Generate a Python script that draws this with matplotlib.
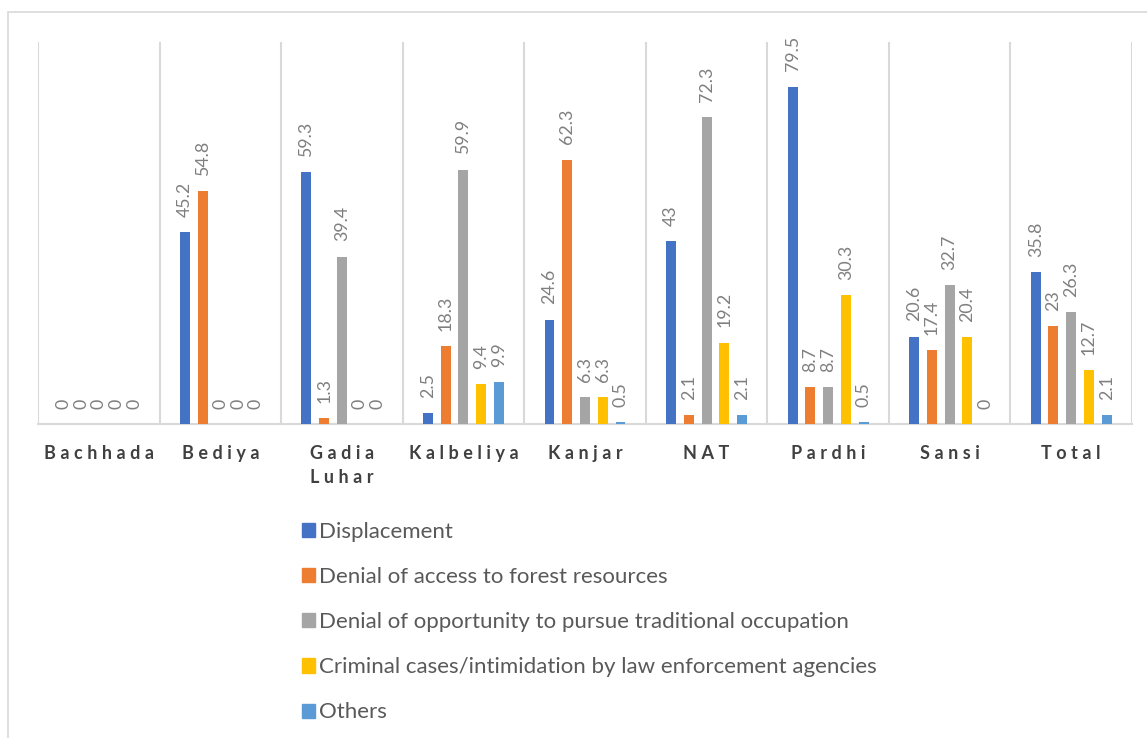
import numpy as np
import matplotlib.pyplot as plt
from matplotlib.patches import Patch, Rectangle

plt.rcParams['font.family'] = ['Lato', 'DejaVu Sans']

categories = ['Bachhada', 'Bediya', 'Gadia\nLuhar', 'Kalbeliya', 'Kanjar', 'NAT', 'Pardhi', 'Sansi', 'Total']
series_names = ['Displacement',
                'Denial of access to forest resources',
                'Denial of opportunity to pursue traditional occupation',
                'Criminal cases/intimidation by law enforcement agencies',
                'Others']
displacement = [0, 45.2, 59.3, 2.5, 24.6, 43, 79.5, 20.6, 35.8]
forest = [0, 54.8, 1.3, 18.3, 62.3, 2.1, 8.7, 17.4, 23]
occupation = [0, 0, 39.4, 59.9, 6.3, 72.3, 8.7, 32.7, 26.3]
criminal = [0, 0, 0, 9.4, 6.3, 19.2, 30.3, 20.4, 12.7]
others = [0, 0, 0, 9.9, 0.5, 2.1, 0.5, 0, 2.1]
colors = ['#4472C4', '#ED7D31', '#A5A5A5', '#FFC000', '#5B9BD5']

all_series = [displacement, forest, occupation, criminal, others]

fig = plt.figure(figsize=(11.47, 7.38), dpi=100)
fig.patches.append(Rectangle((8 / 1147, -0.1), 1.2, (738 - 12) / 738 + 0.1,
                             transform=fig.transFigure, fill=False,
                             edgecolor='#d9d9d9', linewidth=1.2))
ax = fig.add_axes([38 / 1147, 1 - 424 / 738, 1094 / 1147, 382 / 738])

x = np.arange(len(categories))
step = 0.146
width = 0.082
for i, (vals, col) in enumerate(zip(all_series, colors)):
    pos = x + (i - 2) * step
    bars = ax.bar(pos, vals, width, color=col, label=series_names[i], zorder=3)
    for b, v in zip(bars, vals):
        ax.annotate(f'{v:g}', (b.get_x() + b.get_width() / 2, v),
                    xytext=(0, 11), textcoords='offset points',
                    rotation=90, ha='center', va='bottom',
                    fontsize=12.8, color='#7f7f7f')

ax.set_xlim(-0.5, len(categories) - 0.5)
ax.set_ylim(0, 90)
ax.vlines(np.arange(-0.5, len(categories)), 0, 90, color='#d9d9d9', linewidth=1.5, zorder=1)
for s in ['top', 'right', 'left']:
    ax.spines[s].set_visible(False)
ax.spines['bottom'].set_color('#d9d9d9')
ax.spines['bottom'].set_linewidth(1.5)
ax.set_yticks([])
ax.set_xticks(x)
spaced = ['\n'.join('\u2009\u2009'.join(w) for w in c.split('\n')) for c in categories]
ax.set_xticklabels(spaced, fontsize=13, fontweight='bold', color='#404040', linespacing=1.5)
ax.tick_params(axis='x', length=0, pad=15)

handles = [Patch(color=c) for c in colors]
fig.legend(handles, series_names, loc='upper left',
           bbox_to_anchor=(282 / 1147, 1 - 502 / 738), frameon=False,
           fontsize=16, labelcolor='#595959', handlelength=0.6, handleheight=0.6,
           handletextpad=0.15, labelspacing=1.13)

fig.savefig('out.png', dpi=100)
